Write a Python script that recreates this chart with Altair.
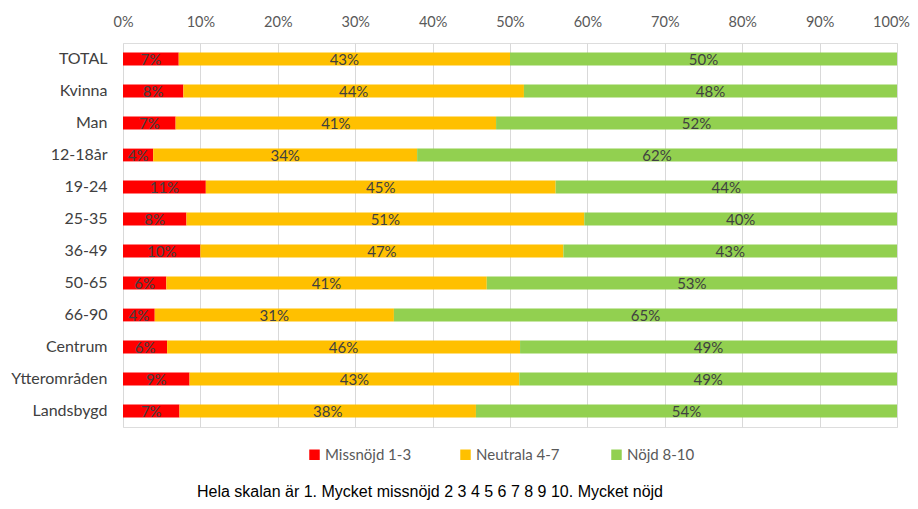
import altair as alt
import pandas as pd

categories = ["TOTAL", "Kvinna", "Man", "12-18år", "19-24", "25-35", "36-49",
              "50-65", "66-90", "Centrum", "Ytterområden", "Landsbygd"]
series = ["Missnöjd 1-3", "Neutrala 4-7", "Nöjd 8-10"]
missnojd = [7.2, 7.8, 6.8, 3.9, 10.7, 8.2, 10.0, 5.6, 4.1, 5.7, 8.6, 7.3]
neutrala = [42.8, 44.0, 41.4, 34.1, 45.2, 51.4, 46.9, 41.4, 30.9, 45.6, 42.6, 38.3]
nojd = [50.0, 48.2, 51.8, 62.0, 44.1, 40.4, 43.1, 53.0, 65.0, 48.7, 48.8, 54.4]
colors = ["#FF0000", "#FFC000", "#92D050"]
footnote = "Hela skalan är 1. Mycket missnöjd 2 3 4 5 6 7 8 9 10. Mycket nöjd"

rows = []
for s_i, (s, vals) in enumerate(zip(series, [missnojd, neutrala, nojd])):
    for c, v in zip(categories, vals):
        rows.append({"kategori": c, "serie": s, "ordning": s_i, "andel": v / 100})
df = pd.DataFrame(rows)

FONT = "Lato"

base = alt.Chart(df).transform_stack(
    stack="andel", groupby=["kategori"], as_=["start", "end"],
    sort=[alt.SortField("ordning", order="ascending")]
).transform_calculate(mid="(datum.start + datum.end) / 2")

y_enc = alt.Y("kategori:N", sort=categories, title=None,
              scale=alt.Scale(paddingInner=0.6, paddingOuter=0.3),
              axis=alt.Axis(domain=False, ticks=False, labelPadding=16,
                            labelFont=FONT, labelFontSize=16, labelColor="#404040"))

bars = base.mark_bar().encode(
    x=alt.X("start:Q", title=None,
            scale=alt.Scale(domain=[0, 1], nice=False),
            axis=alt.Axis(orient="top", format="%", values=[i / 10 for i in range(11)],
                          labelOverlap=False, labelFlush=False, labelBound=False,
                          labelOffset={"condition": {"test": "datum.value == 1", "value": -6},
                                       "value": 0},
                          domain=False, ticks=False, labelPadding=14,
                          labelFont=FONT, labelFontSize=14.5, labelColor="#595959",
                          grid=True, gridColor="#D9D9D9", gridWidth=1)),
    x2="end:Q",
    y=y_enc,
    color=alt.Color("serie:N", sort=series,
                    scale=alt.Scale(domain=series, range=colors),
                    legend=alt.Legend(title=None, orient="none", direction="horizontal",
                                      legendX=184, legendY=404, columns=3,
                                      gridAlign="all", columnPadding=46,
                                      symbolType="square", symbolSize=110,
                                      symbolStrokeWidth=0, labelFont=FONT,
                                      labelFontSize=15, labelColor="#595959",
                                      labelOffset=3)),
)

labels = base.mark_text(font=FONT, fontSize=15, color="#404040", baseline="middle", dy=1).encode(
    x="mid:Q",
    y=alt.Y("kategori:N", sort=categories),
    text=alt.Text("andel:Q", format=".0%"),
)

note = alt.Chart(pd.DataFrame({"t": [footnote]})).mark_text(
    font="Liberation Sans", fontSize=16, color="#000000", align="center", baseline="middle"
).encode(text="t:N", x=alt.value(307), y=alt.value(449))

chart = alt.layer(bars, labels, note).properties(
    width=774, height=384,
    autosize=alt.AutoSizeParams(type="none"),
    padding={"left": 115, "top": 35, "right": 13, "bottom": 74},
).configure_view(stroke=None).configure(background="white")

chart.save("out.html", embed_options={"renderer": "svg", "actions": False})
